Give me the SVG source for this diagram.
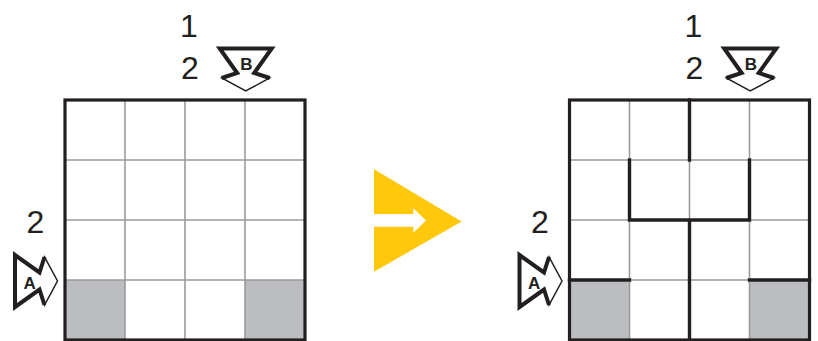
<svg xmlns="http://www.w3.org/2000/svg" xmlns:xlink="http://www.w3.org/1999/xlink" width="818" height="341" viewBox="0 0 818 341">
<style>
.num{font-family:"Liberation Sans",Arial,sans-serif;font-size:32px;fill:#231F20;text-anchor:middle}
.lbl{font-family:"Liberation Sans",Arial,sans-serif;font-size:17px;font-weight:bold;fill:#231F20;text-anchor:middle}
.thin{stroke:#9B9B9B;stroke-width:1.6;fill:none}
.wall{stroke:#231F20;stroke-width:3.4;fill:none;stroke-linecap:square}
.border{stroke:#231F20;stroke-width:3.2;fill:none}
.shade{fill:#BCBDC0}
</style>
<defs>
<g id="marker">
<polygon points="-26,-42.5 26,-42.5 8.5,-18 24,-13 0,0 -24,-13 -8.5,-18" fill="#fff" stroke="#231F20" stroke-width="1.5" stroke-linejoin="miter"/>
<polyline points="-24,-13 -8.5,-18 -26,-42.5 26,-42.5 8.5,-18 24,-13" fill="none" stroke="#231F20" stroke-width="4" stroke-linejoin="miter" stroke-miterlimit="3"/>
</g>
<g id="grid">
<rect class="shade" x="65" y="280" width="60" height="60"/>
<rect class="shade" x="245" y="280" width="60" height="60"/>
<path class="thin" d="M125,100 V340 M185,100 V340 M245,100 V340 M65,160 H305 M65,220 H305 M65,280 H305"/>
<rect class="border" x="65" y="100" width="240" height="240"/>
</g>
<g id="clues">
<text class="num" x="189" y="37">1</text>
<text class="num" x="190" y="79">2</text>
<use xlink:href="#marker" transform="translate(245.7,91)"/>
<text class="lbl" x="246.5" y="70">B</text>
<text class="num" x="35.5" y="233">2</text>
<use xlink:href="#marker" transform="translate(57.5,281) rotate(-90)"/>
<text class="lbl" x="29.7" y="288.5">A</text>
</g>
</defs>
<g id="left-puzzle">
<use xlink:href="#grid"/>
<use xlink:href="#clues"/>
</g>
<g id="right-puzzle" transform="translate(504.5,0)">
<use xlink:href="#grid"/>
<use xlink:href="#clues"/>
<path class="wall" d="M185,100 V160 M125,160 V220 H245 V160 M185,220 V340 M65,280 H125 M245,280 H305"/>
</g>
<g id="connectors">
<polygon points="374,169.3 461.7,221.5 374,271.7" fill="#FFC80B"/>
<polygon points="374,214 413.3,214 413.3,208.3 426,220.5 413.3,232.7 413.3,226.8 374,226.8" fill="#fff"/>
</g>
</svg>
